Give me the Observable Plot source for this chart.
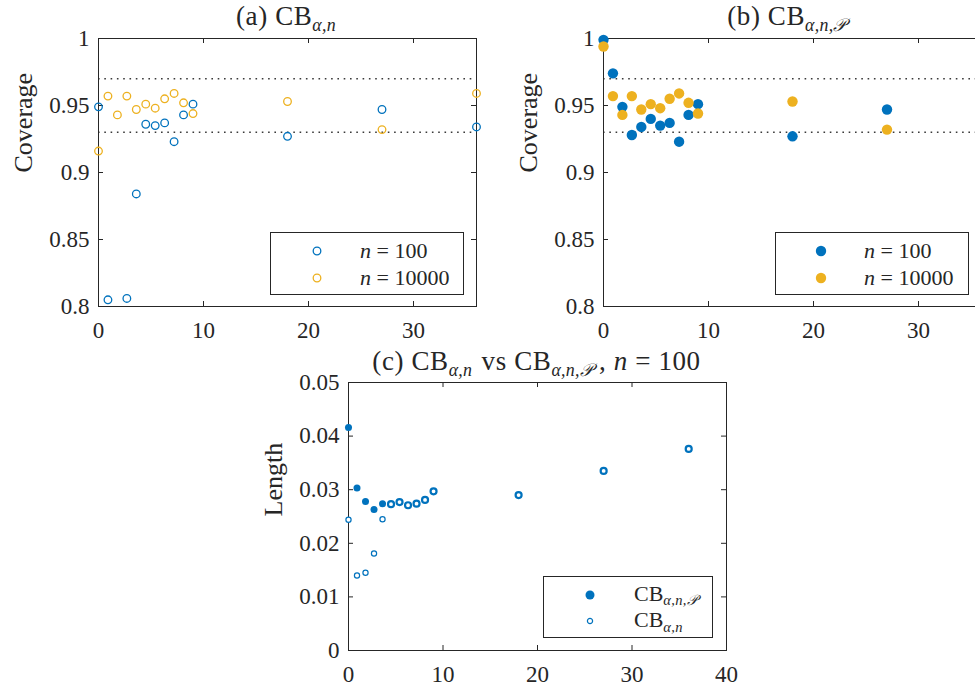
<!DOCTYPE html>
<html><head><meta charset="utf-8">
<script src="https://cdn.jsdelivr.net/npm/d3@7"></script>
<script src="https://cdn.jsdelivr.net/npm/@observablehq/plot@0.6"></script>
<style>
body{margin:0;background:#fff;}
#fig{position:relative;width:975px;height:686px;overflow:hidden;font-family:"Liberation Serif",serif;color:#262626;}
.panel{position:absolute;}
.title{position:absolute;font-size:27px;line-height:24px;letter-spacing:0.6px;white-space:nowrap;transform:translateX(-50%);}
.sub{font-size:0.66em;position:relative;top:0.32em;letter-spacing:0.3px;margin-right:2px;}
.sub .cal{margin-right:4px;}
.legend{position:absolute;border:1px solid #262626;background:#fff;box-sizing:border-box;}
.lrow{position:absolute;left:0;right:0;height:0;}
.lrow svg{position:absolute;overflow:visible;}
.ltext{position:absolute;font-size:22px;line-height:22px;white-space:nowrap;transform:translateY(-50%);}
</style></head>
<body><div id="fig"></div>
<script>
// ---- data ----
const xs = [0, 0.9, 1.8, 2.7, 3.6, 4.5, 5.4, 6.3, 7.2, 8.1, 9, 18, 27, 36];
// (a) coverage of CB_{alpha,n}
const covA100   = [0.949, 0.805, null, 0.806, 0.884, 0.936, 0.935, 0.937, 0.923, 0.943, 0.951, 0.927, 0.947, 0.934];
const covA10000 = [0.916, 0.957, 0.943, 0.957, 0.947, 0.951, 0.948, 0.955, 0.959, 0.952, 0.944, 0.953, 0.932, 0.959];
// (b) coverage of CB_{alpha,n,P}
const covB100   = [0.999, 0.974, 0.949, 0.928, 0.934, 0.940, 0.935, 0.937, 0.923, 0.943, 0.951, 0.927, 0.947, 0.934];
const covB10000 = [0.994, 0.957, 0.943, 0.957, 0.947, 0.951, 0.948, 0.955, 0.959, 0.952, 0.944, 0.953, 0.932, 0.959];
// (c) lengths, n = 100
const lenP = [0.0416, 0.0303, 0.0278, 0.0263, 0.0274, 0.0273, 0.0277, 0.0271, 0.0274, 0.0281, 0.0297, 0.0290, 0.0335, 0.0376];
const lenN = [0.0244, 0.0140, 0.0145, 0.0181, 0.0245, 0.0273, 0.0277, 0.0271, 0.0274, 0.0281, 0.0297, 0.0290, 0.0335, 0.0376];
// reference levels and ticks
const levels = [0.93, 0.97];
const xTicksAB = [0, 10, 20, 30];
const yTicksAB = [0.8, 0.85, 0.9, 0.95, 1];
const xTicksC = [0, 10, 20, 30, 40];
const yTicksC = [0, 0.01, 0.02, 0.03, 0.04, 0.05];

const blue = "#0072BD", orange = "#EDB120", ink = "#262626";
const serif = "Liberation Serif";
const fmt = d3.format("~g");
const M = {marginLeft: 98, marginRight: 14, marginTop: 38, marginBottom: 36};
const W = 490, H = 342, IW = W - M.marginLeft - M.marginRight, IH = H - M.marginTop - M.marginBottom;

function rows(ys) { return xs.map((x, i) => ({x, y: ys[i], i})).filter(d => d.y != null); }

function boxMarks(xt, yt, ylabel) {
  return [
    Plot.tickX(xt, {x: d => d, insetTop: IH - 5, stroke: ink}),
    Plot.tickX(xt, {x: d => d, insetBottom: IH - 5, stroke: ink}),
    Plot.tickY(yt, {y: d => d, insetRight: IW - 5, stroke: ink}),
    Plot.tickY(yt, {y: d => d, insetLeft: IW - 5, stroke: ink}),
    Plot.axisX(xt, {tickSize: 0, tickPadding: 15, label: null, tickFormat: fmt, fontSize: 23, fontFamily: serif, fill: ink}),
    Plot.axisY(yt, {tickSize: 0, tickPadding: 9, label: null, tickFormat: fmt, fontSize: 23, fontFamily: serif, fill: ink}),
    Plot.text([ylabel], {text: d => d, frameAnchor: "left", rotate: -90, dx: -75, fontSize: 26, fontFamily: serif, lineAnchor: "middle", fill: ink}),
    Plot.frame({stroke: ink})
  ];
}

function coveragePlot(s100, s10000, filled, rDot) {
  return Plot.plot({
    width: W, height: H, ...M,
    x: {domain: [0, 36], axis: null},
    y: {domain: [0.8, 1], axis: null},
    marks: [
      Plot.ruleY(levels, {y: d => d, stroke: "#3a3a3a", strokeWidth: 1.6, strokeDasharray: "1.6,4.7"}),
      ...boxMarks(xTicksAB, yTicksAB, "Coverage"),
      Plot.dot(rows(s100), {x: "x", y: "y", r: rDot, stroke: filled ? "none" : blue, fill: filled ? blue : "none", strokeWidth: 1.3}),
      Plot.dot(rows(s10000), {x: "x", y: "y", r: rDot, stroke: filled ? "none" : orange, fill: filled ? orange : "none", strokeWidth: 1.3})
    ]
  });
}

const fig = document.getElementById("fig");
function place(el, left, top) {
  el.classList.add("panel");
  el.style.left = left + "px"; el.style.top = top + "px";
  el.style.overflow = "visible"; el.style.background = "transparent";
  fig.appendChild(el);
}

place(coveragePlot(covA100, covA10000, false, 3.8), 0, 0);
place(coveragePlot(covB100, covB10000, true, 5.2), 505, 0);

const pc = Plot.plot({
  width: W, height: H, ...M,
  x: {domain: [0, 40], axis: null},
  y: {domain: [0, 0.05], axis: null},
  marks: [
    ...boxMarks(xTicksC, yTicksC, "Length"),
    Plot.dot(rows(lenN), {x: "x", y: "y", r: 2.6, stroke: blue, fill: "white", strokeWidth: 1.2}),
    Plot.dot(rows(lenP), {x: "x", y: "y",
      r: d => lenP[d.i] !== lenN[d.i] ? 4.5 : 3.3,
      fill: d => lenP[d.i] !== lenN[d.i] ? blue : "white",
      stroke: blue,
      strokeWidth: d => lenP[d.i] !== lenN[d.i] ? 0 : 2.2})
  ]
});
place(pc, 249.5, 343.7);

// ---- titles ----
function title(html, cx, top) {
  const d = document.createElement("div");
  d.className = "title"; d.innerHTML = html;
  d.style.left = cx + "px"; d.style.top = top + "px";
  fig.appendChild(d);
}
const CBn = 'CB<span class="sub"><i>α,n</i></span>';
const CBnP = 'CB<span class="sub"><i>α,n,<span class="cal">𝒫</span></i></span>';
title('(a) ' + CBn, 287, 4);
title('(b) ' + CBnP, 790, 4);
title('(c) ' + CBn + ' vs ' + CBnP + ', <i>n</i> = 100', 536.5, 349);

// ---- legends ----
function legend(left, top, width, height, markerX, textX, entries) {
  const box = document.createElement("div");
  box.className = "legend";
  Object.assign(box.style, {left: left + "px", top: top + "px", width: width + "px", height: height + "px"});
  entries.forEach(e => {
    const row = document.createElement("div");
    row.className = "lrow"; row.style.top = e.y + "px";
    const svg = d3.create("svg").attr("width", 1).attr("height", 1)
      .style("left", markerX + "px").style("top", "0px");
    svg.append("circle").attr("cx", 0).attr("cy", 0).attr("r", e.r)
      .attr("fill", e.fill).attr("stroke", e.stroke).attr("stroke-width", e.sw);
    row.appendChild(svg.node());
    const t = document.createElement("div");
    t.className = "ltext"; t.style.left = textX + "px"; t.innerHTML = e.html;
    row.appendChild(t);
    box.appendChild(row);
  });
  fig.appendChild(box);
}
legend(270, 232, 194, 63, 46, 89, [
  {y: 17.5, r: 3.8, fill: "none", stroke: blue, sw: 1.3, html: '<i>n</i> = 100'},
  {y: 44.5, r: 3.8, fill: "none", stroke: orange, sw: 1.3, html: '<i>n</i> = 10000'}
]);
legend(775, 232, 194, 63, 45, 88, [
  {y: 17.5, r: 5.2, fill: blue, stroke: "none", sw: 0, html: '<i>n</i> = 100'},
  {y: 44.5, r: 5.2, fill: orange, stroke: "none", sw: 0, html: '<i>n</i> = 10000'}
]);
legend(543, 576, 170, 62, 45.5, 90, [
  {y: 17.5, r: 4.5, fill: blue, stroke: "none", sw: 0, html: CBnP},
  {y: 44, r: 2.6, fill: "white", stroke: blue, sw: 1.2, html: CBn}
]);
</script></body></html>
